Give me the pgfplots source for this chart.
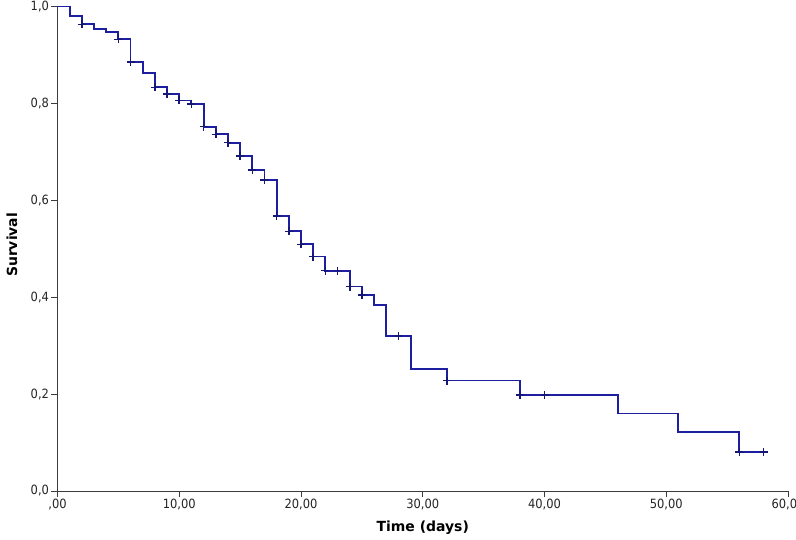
\documentclass[border=0pt]{standalone}
\usepackage{pgfplots}
\pgfplotsset{compat=1.18}
\usepackage{fontspec}
\setmainfont{DejaVu Sans}
\newfontfamily\tickfont{DejaVu Sans Condensed}
\definecolor{kmline}{RGB}{30,30,160}
\definecolor{axgray}{RGB}{60,60,60}
\begin{document}
\begin{tikzpicture}
\begin{axis}[
  at={(0,0)}, anchor=south west,
  scale only axis,
  width=730.5bp, height=484.5bp,
  xmin=0, xmax=60, ymin=0, ymax=1,
  axis lines=left,
  axis line style={axgray, line width=1bp, -},
  xtick={0,10,20,30,40,50,60},
  xticklabels={{,00},{10,00},{20,00},{30,00},{40,00},{50,00},{60,00}},
  ytick={0,0.2,0.4,0.6,0.8,1},
  yticklabels={{0,0},{0,2},{0,4},{0,6},{0,8},{1,0}},
  tick align=outside,
  major tick length=6bp,
  tick style={axgray, line width=1bp},
  ticklabel style={font=\tickfont\fontsize{12.8}{14}\selectfont, text=black!85},
  xticklabel style={yshift=1bp},
  yticklabel style={xshift=1bp},
  xlabel={\textbf{Time (days)}},
  ylabel={\textbf{Survival}},
  label style={font=\fontsize{14}{16}\selectfont},
  xlabel style={at={(axis description cs:0.5,-0.0764)}, anchor=center},
  ylabel style={at={(axis description cs:-0.0623,0.508)}, anchor=center, rotate=0},
  clip=false,
]
\addplot[const plot, kmline, line width=1.9bp] coordinates {
(0,1) (1,0.980) (2,0.963) (3,0.953) (4,0.947) (5,0.932) (6,0.885) (7,0.863)
(8,0.833) (9,0.819) (10,0.806) (11,0.799) (12,0.752) (13,0.736) (14,0.719)
(15,0.691) (16,0.663) (17,0.642) (18,0.568) (19,0.536) (20,0.509) (21,0.484)
(22,0.455) (24,0.422) (25,0.405) (26,0.384) (27,0.320) (29,0.251) (32,0.228)
(38,0.198) (46,0.160) (51,0.121) (56,0.081) (58,0.081)
};
\addplot[only marks, mark=+, mark size=4bp, color=kmline!75!black, line width=1.6bp] coordinates {
(2,0.963) (5,0.932) (6,0.885) (8,0.833) (9,0.819) (10,0.806) (11,0.799)
(12,0.752) (13,0.736) (14,0.719) (15,0.691) (16,0.663) (17,0.642) (18,0.568)
(19,0.536) (20,0.509) (21,0.484) (22,0.455) (23,0.455) (24,0.422) (25,0.405)
(28,0.320) (32,0.228) (38,0.198) (40,0.198) (56,0.081) (58,0.081)
};
\end{axis}
\pgfresetboundingbox
\path[use as bounding box] (-57.5bp,-49bp) rectangle (738.5bp,491bp);
\end{tikzpicture}
\end{document}
